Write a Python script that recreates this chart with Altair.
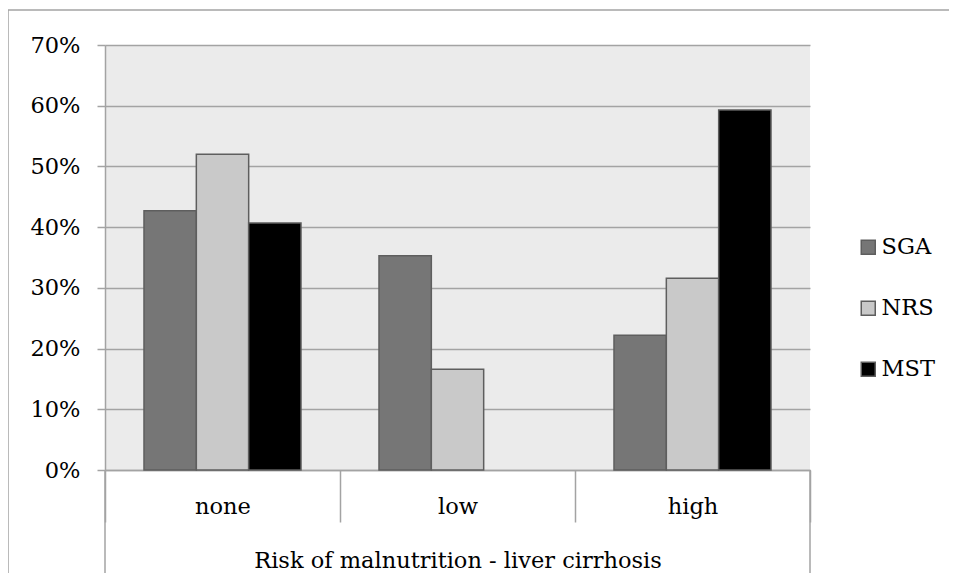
import altair as alt
import pandas as pd

categories = ["none", "low", "high"]
series = ["SGA", "NRS", "MST"]
sga = [0.427, 0.353, 0.222]
nrs = [0.520, 0.166, 0.316]
mst = [0.407, 0.0, 0.593]
colors = ["#767676", "#C9C9C9", "#000000"]
y_ticks = [0.0, 0.1, 0.2, 0.3, 0.4, 0.5, 0.6, 0.7]
x_title = "Risk of malnutrition - liver cirrhosis"

rows = []
for i, c in enumerate(categories):
    for s, vals in zip(series, [sga, nrs, mst]):
        rows.append({"category": c, "series": s, "value": vals[i]})
df = pd.DataFrame(rows)

FONT = "DejaVu Serif"
FS = 22.5
W, H = 705, 425
GRID = "#A3A3A3"

xscale = alt.Scale(domain=categories, paddingInner=0, paddingOuter=0)

bars = alt.Chart(df).transform_filter("datum.value > 0").mark_bar(
    stroke="#5E5E5E", strokeWidth=1.5
).encode(
    x=alt.X("category:N", scale=xscale, sort=categories,
            axis=alt.Axis(title=x_title, labelAngle=0, tickBand="extent", tickSize=52,
                          tickColor=GRID, tickWidth=1.5, domainColor=GRID, domainWidth=1.5,
                          labelFont=FONT, labelFontSize=FS, labelColor="black",
                          labelBaseline="middle", labelPadding=-16,
                          titleFont=FONT, titleFontSize=FS, titleFontWeight="normal",
                          titleColor="black", titleY=90, titleBaseline="middle")),
    xOffset=alt.XOffset("series:N", scale=alt.Scale(domain=series, paddingInner=0, paddingOuter=0.745)),
    y=alt.Y("value:Q", scale=alt.Scale(domain=[0, 0.7], nice=False),
            axis=alt.Axis(values=y_ticks, format=".0%", title=None, grid=True,
                          gridColor=GRID, gridWidth=1.5, tickSize=8, tickColor=GRID,
                          tickWidth=1.5, domainColor=GRID, domainWidth=1.5,
                          labelFont=FONT, labelFontSize=FS, labelColor="black",
                          labelPadding=17)),
    color=alt.Color("series:N", scale=alt.Scale(domain=series, range=colors),
                    legend=alt.Legend(title=None, orient="none", legendX=752, legendY=191,
                                      symbolType="square", symbolSize=196,
                                      symbolStrokeColor="#5E5E5E", symbolStrokeWidth=1.5,
                                      labelFont=FONT, labelFontSize=FS, labelColor="black",
                                      rowPadding=38, labelOffset=2, padding=0)),
)

one = pd.DataFrame({"k": [0]})
outer_sep = alt.Chart(one).mark_rule(color=GRID, strokeWidth=1.5).encode(
    x=alt.value(0), y=alt.value(H), y2=alt.value(H + 103))
outer_sep2 = alt.Chart(one).mark_rule(color=GRID, strokeWidth=1.5).encode(
    x=alt.value(W), y=alt.value(H), y2=alt.value(H + 103))
frame_left = alt.Chart(one).mark_rule(color=GRID, strokeWidth=1.5).encode(
    x=alt.value(-97), y=alt.value(-35), y2=alt.value(600))
frame_top = alt.Chart(one).mark_rule(color=GRID, strokeWidth=1.5).encode(
    x=alt.value(-97), x2=alt.value(900), y=alt.value(-35))

chart = alt.layer(bars, outer_sep, outer_sep2, frame_left, frame_top).properties(
    width=W, height=H,
    autosize=alt.AutoSizeParams(type="none"),
    padding={"left": 97, "top": 37, "right": 139, "bottom": 103},
    background="white",
).configure_view(fill="#EBEBEB", stroke=None)

chart.save("out.html", embed_options={"renderer": "svg", "actions": False})
